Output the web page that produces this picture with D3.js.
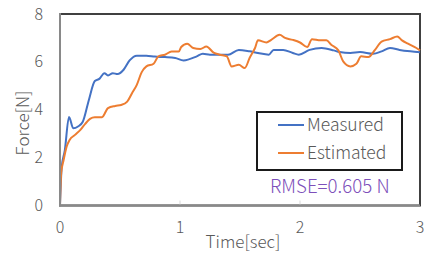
<!DOCTYPE html>
<html>
<head>
<meta charset="utf-8">
<script src="https://cdn.jsdelivr.net/npm/d3@7"></script>
<style>
  html, body { margin: 0; padding: 0; background: #fff; }
  svg { display: block; font-family: "Noto Sans CJK JP", "Noto Sans", sans-serif; font-weight: 300; }
</style>
</head>
<body>
<svg id="chart" width="436" height="261"></svg>
<script>
// ---- data ----
const measuredT = [0, 0.014, 0.04, 0.075, 0.11, 0.15, 0.19, 0.24, 0.29, 0.33, 0.37, 0.40, 0.44, 0.48, 0.53, 0.58, 0.64, 0.72, 0.79, 0.875, 0.96, 1.03, 1.14, 1.19, 1.25, 1.31, 1.40, 1.49, 1.58, 1.65, 1.74, 1.78, 1.86, 1.94, 1.99, 2.08, 2.18, 2.28, 2.33, 2.42, 2.5, 2.61, 2.68, 2.75, 2.83, 2.92, 3.0];
const measuredF = [0, 1.6, 2.3, 3.7, 3.23, 3.3, 3.5, 4.4, 5.2, 5.3, 5.53, 5.43, 5.53, 5.49, 5.67, 6.06, 6.26, 6.26, 6.22, 6.2, 6.16, 6.06, 6.23, 6.34, 6.3, 6.3, 6.3, 6.5, 6.44, 6.37, 6.3, 6.5, 6.5, 6.37, 6.3, 6.5, 6.58, 6.48, 6.41, 6.37, 6.41, 6.34, 6.44, 6.58, 6.5, 6.44, 6.4];
const estimatedT = [0, 0.01, 0.03, 0.055, 0.08, 0.125, 0.17, 0.21, 0.25, 0.29, 0.35, 0.40, 0.46, 0.51, 0.56, 0.60, 0.64, 0.68, 0.72, 0.78, 0.82, 0.875, 0.93, 0.99, 1.01, 1.06, 1.11, 1.17, 1.22, 1.28, 1.33, 1.39, 1.43, 1.49, 1.54, 1.58, 1.625, 1.65, 1.72, 1.76, 1.83, 1.875, 1.94, 2.0, 2.06, 2.10, 2.17, 2.22, 2.26, 2.32, 2.36, 2.42, 2.47, 2.51, 2.57, 2.625, 2.68, 2.75, 2.81, 2.85, 2.90, 2.97, 3.0];
const estimatedF = [0, 1.36, 1.9, 2.46, 2.74, 2.95, 3.16, 3.41, 3.62, 3.69, 3.69, 4.07, 4.16, 4.2, 4.34, 4.69, 5.04, 5.56, 5.81, 5.92, 6.23, 6.3, 6.43, 6.43, 6.62, 6.76, 6.58, 6.54, 6.64, 6.39, 6.3, 6.23, 5.81, 5.88, 5.74, 6.16, 6.58, 6.9, 6.81, 6.92, 7.13, 7.0, 6.92, 6.81, 6.62, 6.95, 6.9, 6.9, 6.72, 6.48, 6.02, 5.81, 5.92, 6.23, 6.2, 6.5, 6.85, 6.95, 7.06, 6.9, 6.76, 6.58, 6.48];
const xTicks = [0, 1, 2, 3];
const yTicks = [0, 2, 4, 6, 8];
const seriesNames = ["Measured", "Estimated"];
const seriesColors = ["#4472C4", "#ED7D31"];
const xTitle = "Time[sec]";
const yTitle = "Force[N]";
const note = "RMSE=0.605 N";

// ---- layout ----
const svg = d3.select("#chart");
const L = 60, R = 420, T = 14, B = 205.5;
const x = d3.scaleLinear().domain([0, 3]).range([L, R]);
const y = d3.scaleLinear().domain([0, 8]).range([B, T]);
const textColor = "#595959";

// plot frame
svg.append("rect").attr("x", L).attr("y", T).attr("width", R - L).attr("height", B - T)
  .attr("fill", "none").attr("stroke", "#404040").attr("stroke-width", 2);

// x tick marks (inside)
svg.append("g").selectAll("line").data(xTicks.filter(d => d > 0 && d < 3)).join("line")
  .attr("x1", d => x(d)).attr("x2", d => x(d)).attr("y1", B - 5).attr("y2", B)
  .attr("stroke", "#d9d9d9").attr("stroke-width", 1);

// series
const series = [
  { t: measuredT, f: measuredF },
  { t: estimatedT, f: estimatedF }
];
const line = d3.line().x(d => x(d[0])).y(d => y(d[1])).curve(d3.curveMonotoneX);
series.forEach((s, i) => {
  svg.append("path").datum(s.t.map((t, k) => [t, s.f[k]]))
    .attr("fill", "none").attr("stroke", seriesColors[i]).attr("stroke-width", 2)
    .attr("stroke-linejoin", "round").attr("d", line);
});

// axes lines (gray) left and bottom
svg.append("line").attr("x1", L).attr("x2", L).attr("y1", T - 1).attr("y2", B + 1)
  .attr("stroke", "#898989").attr("stroke-width", 2);
svg.append("line").attr("x1", L - 1).attr("x2", R).attr("y1", B).attr("y2", B)
  .attr("stroke", "#898989").attr("stroke-width", 2);

// tick labels
svg.append("g").selectAll("text").data(yTicks).join("text")
  .attr("x", 43).attr("y", d => y(d)).attr("dy", "0.35em").attr("text-anchor", "end")
  .attr("fill", textColor).attr("font-size", 16).text(d => d);
svg.append("g").selectAll("text").data(xTicks).join("text")
  .attr("x", d => x(d)).attr("y", 233).attr("text-anchor", "middle")
  .attr("fill", textColor).attr("font-size", 16).text(d => d);

// axis titles
svg.append("text").attr("x", 243).attr("y", 248).attr("text-anchor", "middle")
  .attr("fill", textColor).attr("font-size", 17).text(xTitle);
svg.append("text").attr("transform", "translate(29,123) rotate(-90)").attr("text-anchor", "middle")
  .attr("fill", textColor).attr("font-size", 17).text(yTitle);

// legend
const lg = svg.append("g");
lg.append("rect").attr("x", 257).attr("y", 112).attr("width", 145).attr("height", 58)
  .attr("fill", "#fff").attr("stroke", "#1a1a1a").attr("stroke-width", 2);
seriesNames.forEach((n, i) => {
  const yy = 125 + i * 28;
  lg.append("line").attr("x1", 278).attr("x2", 304).attr("y1", yy).attr("y2", yy)
    .attr("stroke", seriesColors[i]).attr("stroke-width", 2);
  lg.append("text").attr("x", 307).attr("y", yy + 6).attr("fill", textColor)
    .attr("font-size", 17.5).text(n);
});

// RMSE note
svg.append("text").attr("x", 270).attr("y", 193).attr("fill", "#7d4fba")
  .attr("font-size", 18.7).text(note);
</script>
</body>
</html>
